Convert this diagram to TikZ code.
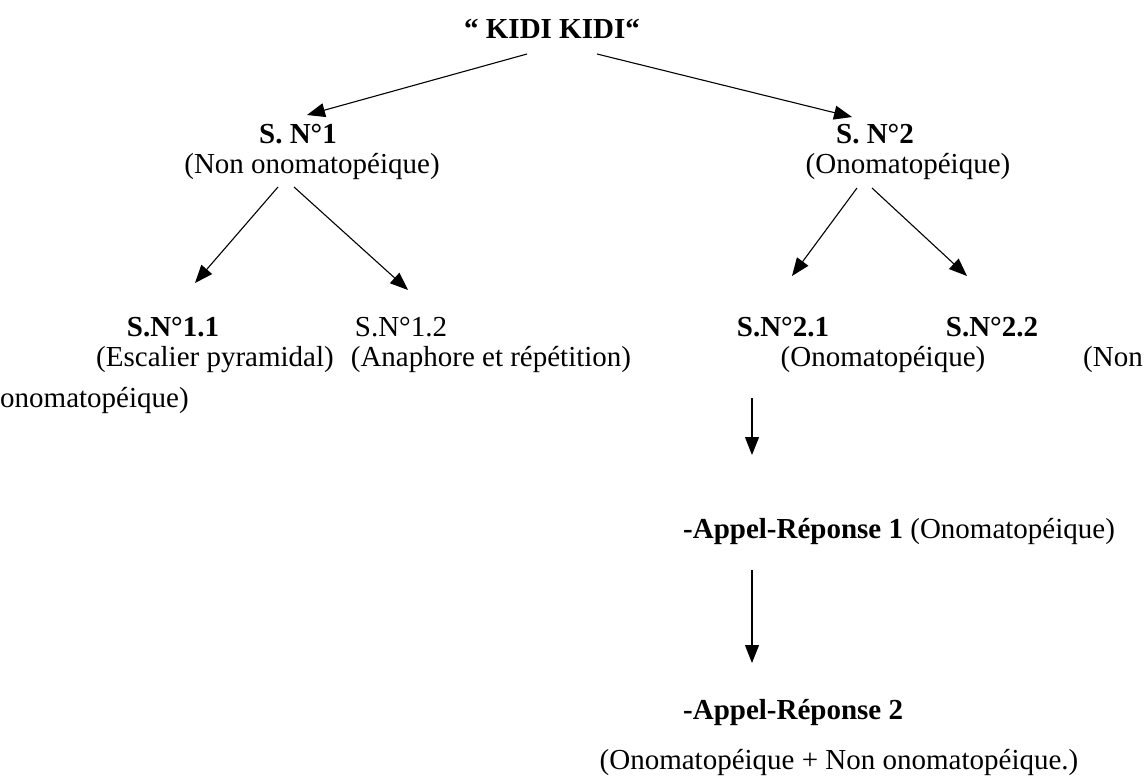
\documentclass[tikz,border=0pt]{standalone}
\usepackage{fontspec}
\setmainfont{Liberation Serif}
\usetikzlibrary{arrows.meta}
\tikzset{
  lbl/.style={inner sep=0pt, font=\fontsize{29}{33}\selectfont},
  blbl/.style={lbl, font=\fontsize{29}{33}\selectfont\bfseries},
  arr/.style={-{Triangle[length=18pt,width=14pt]}, line width=1.1pt}
}
\begin{document}
\begin{tikzpicture}[x=1pt,y=-1pt]
\useasboundingbox (0,0) rectangle (1145,776);
% texts
\node[blbl] (title) at (552,29) {“ KIDI KIDI“};
\node[blbl] (sn1) at (298,134) {S. N°1};
\node[lbl] (sn1d) at (312,167) {(Non onomatopéique)};
\node[blbl] (sn2) at (875,134) {S. N°2};
\node[lbl] (sn2d) at (908,167) {(Onomatopéique)};
\node[blbl] (sn11) at (173,327) {S.N°1.1};
\node[lbl] (sn12) at (401,327) {S.N°1.2};
\node[blbl] (sn21) at (783,327) {S.N°2.1};
\node[blbl] (sn22) at (992,327) {S.N°2.2};
\node[lbl] (sn11d) at (215,360) {(Escalier pyramidal)};
\node[lbl] (sn12d) at (491,360) {(Anaphore et répétition)};
\node[lbl] (sn21d) at (883,360) {(Onomatopéique)};
\node[lbl, anchor=east] (sn22a) at (1143,360) {(Non};
\node[lbl, anchor=west] (sn22b) at (0,400) {onomatopéique)};
\node[lbl, anchor=west] (ar1) at (683,531) {\textbf{-Appel-Réponse 1} (Onomatopéique)};
\node[blbl, anchor=west] (ar2) at (683,713) {-Appel-Réponse 2};
\node[lbl] (ar2d) at (839,762) {(Onomatopéique + Non onomatopéique.)};
% arrow ends
\coordinate (t1) at (527,54);   \coordinate (h1) at (307,115);
\coordinate (t2) at (597,54);   \coordinate (h2) at (852,117);
\coordinate (t3) at (278,187);  \coordinate (h3) at (195,283);
\coordinate (t4) at (294,187);  \coordinate (h4) at (408,290);
\coordinate (t5) at (857,188);  \coordinate (h5) at (792,276);
\coordinate (t6) at (872,188);  \coordinate (h6) at (967,276);
\coordinate (t7) at (752,398);  \coordinate (h7) at (752,455);
\coordinate (t8) at (752,570);  \coordinate (h8) at (752,663);
\draw[arr] (t1) -- (h1);
\draw[arr] (t2) -- (h2);
\draw[arr] (t3) -- (h3);
\draw[arr] (t4) -- (h4);
\draw[arr] (t5) -- (h5);
\draw[arr] (t6) -- (h6);
\draw[arr] (t7) -- (h7);
\draw[arr] (t8) -- (h8);
\end{tikzpicture}
\end{document}
